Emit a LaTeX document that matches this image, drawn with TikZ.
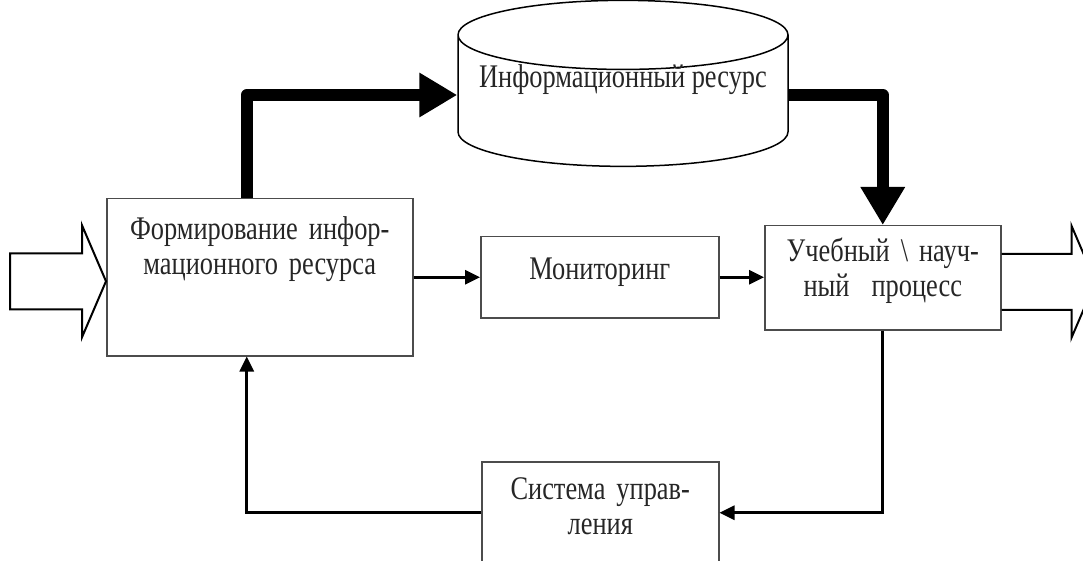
\documentclass[tikz,border=0pt]{standalone}
\usepackage{fontspec}
\setmainfont[FakeStretch=0.8]{Liberation Serif}
\usetikzlibrary{arrows.meta, shapes.geometric}

\begin{document}
\begin{tikzpicture}[
        x=1pt, y=-1pt,
        % Шрифт по умолчанию: serif, тёмно-серый текст
        every node/.style={font=\fontsize{33}{35}\selectfont, text=black!85},
        % Блоки: текст прижат к верхней стороне
        blok/.style={draw=black!70, line width=1.5pt, anchor=north west, align=center, inner sep=0pt},
        % Хранилище (цилиндр)
        baza/.style={cylinder, draw, line width=1.5pt, shape border rotate=90, aspect=0.24, inner sep=0pt},
        % Толстые стрелки потока ресурса
        fat/.style={line width=12pt, line join=round, -{Triangle[length=38pt, width=42pt]}},
        % Тонкие стрелки
        arrow/.style={line width=3pt, -{Triangle[length=15pt, width=14pt]}},
        % Контурные стрелки вход / выход
        hollow/.style={draw, line width=2pt, line join=miter}
    ]
    \useasboundingbox (0,0) rectangle (1083,561);

    % --- Блоки ---
    \node[blok, text width=306pt, text height=41pt, text depth=116pt] (form) at (106,198) {Формирование инфор-\\мационного ресурса};
    \node[blok, text width=238pt, text height=43pt, text depth=38pt] (monitor) at (480,236) {Мониторинг};
    \node[blok, text width=236pt, text height=36pt, text depth=68pt] (ucheb) at (764,225) {Учебный \textbackslash{} науч-\\ный~ процесс};
    \node[blok, text width=237pt, text height=38pt, text depth=64pt] (upr) at (481,461) {Система управ-\\ления};

    % --- Информационный ресурс ---
    \node[baza, minimum width=330pt, minimum height=166pt, text height=1pt, text depth=28pt] (res) at (623,101) {Информационный ресурс};

    % --- Поток ресурса ---
    \draw[fat] ([xshift=-13pt]form.north) |- ([yshift=6pt]res.west);
    \draw[fat] ([yshift=6pt]res.east) -| (ucheb.north);

    % --- Основная цепочка ---
    \draw[arrow] (form.east) -- (monitor.west);
    \draw[arrow] (monitor.east) -- (monitor.east -| ucheb.west);

    % --- Обратная связь ---
    \draw[arrow] (ucheb.south) |- (upr.east);
    \draw[arrow] (upr.west) -| ([xshift=-13pt]form.south);

    % --- Вход и выход ---
    \draw[hollow] ([yshift=-4pt]form.west) -- ++(-24,-56) -- ++(0,28) -- ++(-72,0) -- ++(0,56) -- ++(72,0) -- ++(0,28) -- cycle;
    \coordinate (vyhod) at ([yshift=-4pt]ucheb.east);
    \draw[hollow] ([yshift=28pt]vyhod) -- ++(70,0) -- ++(0,-28) -- ++(24,56) -- ++(-24,56) -- ++(0,-28) -- ++(-70,0);

\end{tikzpicture}
\end{document}
